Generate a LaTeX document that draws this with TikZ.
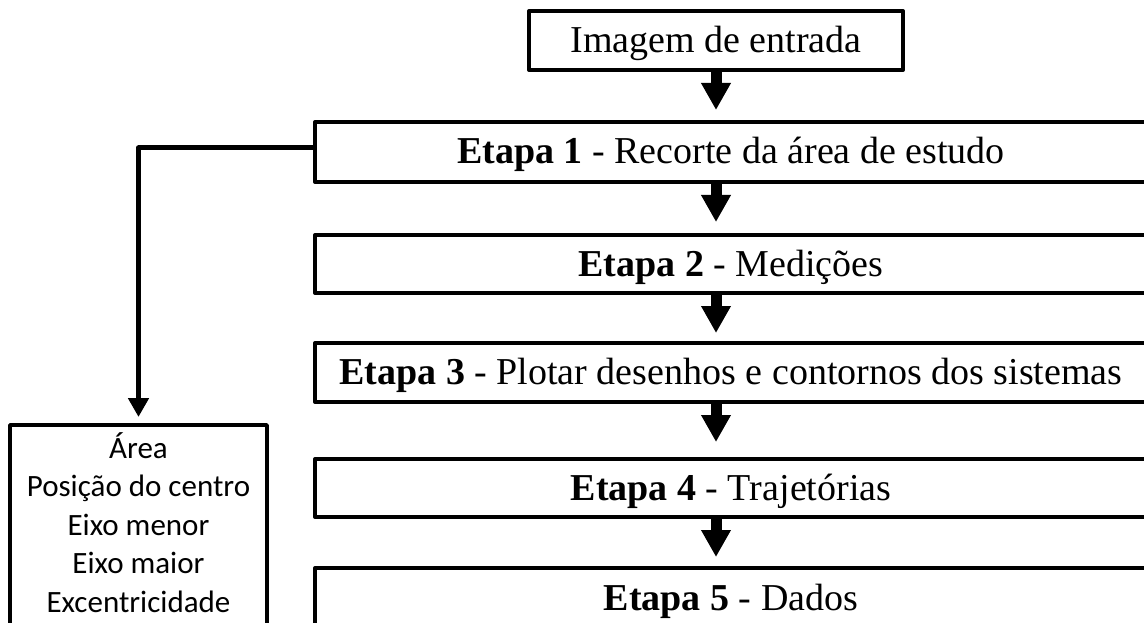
\documentclass[tikz,border=0pt]{standalone}
\usepackage{fontspec}
\setmainfont{Liberation Serif}
\newfontfamily\calib{Carlito}
\usetikzlibrary{arrows.meta}
\begin{document}
\begin{tikzpicture}[x=1pt,y=-1pt,
  stage/.style={draw, line width=4pt, line join=round, outer sep=0pt, inner sep=0pt,
    minimum width=832pt, text height=30pt, text depth=6pt,
    font=\fontsize{38}{44}\selectfont},
  flow/.style={line width=11pt, -{Triangle[width=28pt,length=27pt]}},
  side/.style={line width=5pt, line join=round, -{Triangle[width=20pt,length=19pt]}},
  params/.style={draw, line width=3.5pt, line join=round, outer sep=0pt, inner sep=0pt,
    align=center, font=\calib\fontsize{31}{38.5}\selectfont,
    minimum width=257pt, minimum height=210pt}]
\useasboundingbox (0,0) rectangle (1144,623);
\clip (0,0) rectangle (1144,623);
\node[stage, minimum width=374pt, minimum height=59pt] (inp) at (716,40.5) {Imagem de entrada};
\node[stage, minimum height=60pt] (e1) at (731,152) {\textbf{Etapa 1} - Recorte da área de estudo};
\node[stage, minimum height=58pt] (e2) at (731,264) {\textbf{Etapa 2} - Medições};
\node[stage, minimum height=59pt] (e3) at (731,372.5) {\textbf{Etapa 3} - Plotar desenhos e contornos dos sistemas};
\node[stage, minimum height=58pt] (e4) at (731,488) {\textbf{Etapa 4} - Trajetórias};
\node[stage, minimum height=60pt] (e5) at (731,598) {\textbf{Etapa 5} - Dados};
\node[params] (par) at (138.5,530) {Área\\Posição do centro\\Eixo menor\\Eixo maior\\Excentricidade\rule[-15pt]{0pt}{15pt}};
\coordinate (ax) at (inp.south);
\draw[flow, shorten >=12pt] (ax) -- (ax |- e1.north);
\draw[flow, shorten >=13pt] (ax |- e1.south) -- (ax |- e2.north);
\draw[flow, shorten >=10pt] (ax |- e2.south) -- (ax |- e3.north);
\draw[flow, shorten >=17pt] (ax |- e3.south) -- (ax |- e4.north);
\draw[flow, shorten >=11pt] (ax |- e4.south) -- (ax |- e5.north);
\coordinate (tap) at ([yshift=4pt]e1.west);
\draw[side, shorten >=8pt] (tap) -| (par.north);
\end{tikzpicture}
\end{document}
